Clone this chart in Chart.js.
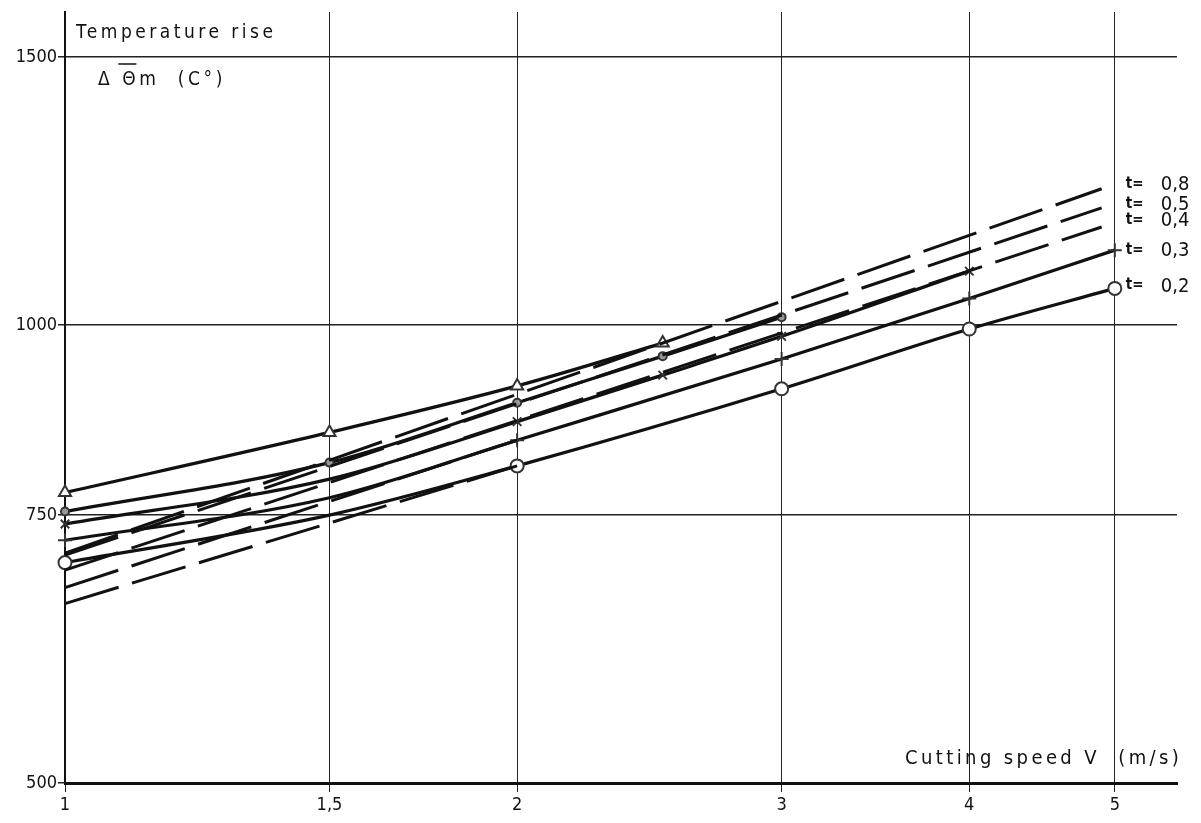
<!DOCTYPE html>
<html>
<head>
<meta charset="utf-8">
<script src="https://cdn.jsdelivr.net/npm/chart.js@4.4.0/dist/chart.umd.min.js"></script>
<style>
  body { margin: 0; background: #fff; }
  canvas { display: block; }
</style>
</head>
<body>
<canvas id="chart" width="1201" height="823"></canvas>
<script>
// cutting speed V (m/s), shared x positions of the readings
const speeds = [1, 1.5, 2, 2.5, 3, 4, 5];
const xTicks = [1, 1.5, 2, 3, 4, 5];
const xTickLabels = ['1', '1,5', '2', '3', '4', '5'];
const yTicks = [500, 750, 1000, 1500];

// temperature rise (C) per depth of cut t, null = no reading
const rise02 = [698, 750, 808, null, 908, 994, 1057];
const rise03 = [722, 770, 840, null, 950, 1041, 1120];
const rise04 = [740, 792, 864, 927, 983, 1085, null];
const rise05 = [754, 812, 889, 954, 1012, null, null];
const rise08 = [776, 850, 912, 973, null, null, null];

// 1 = measured point (marker drawn), 0 = curve only
const meas02 = [1, 0, 1, 0, 1, 1, 1];
const meas03 = [1, 0, 1, 0, 1, 1, 1];
const meas04 = [1, 0, 1, 1, 1, 1, 0];
const meas05 = [1, 1, 1, 1, 1, 0, 0];
const meas08 = [1, 1, 1, 1, 0, 0, 0];

// straight log-log fits (dashed)
const fit02Speeds = [1, 2], fit02 = [656, 808];
const fit03Speeds = [1, 2], fit03 = [672, 840];
const fit04Speeds = [1, 4.9], fit04 = [690, 1160];
const fit05Speeds = [1, 4.9], fit05 = [706, 1194];
const fit08Speeds = [1, 4.9], fit08 = [708, 1229];

const FONT = '"DejaVu Sans Condensed", "DejaVu Sans", sans-serif';
Chart.defaults.font.family = FONT;
Chart.defaults.color = '#111';

function solid(label, vals, meas, style, radius, fill) {
  return {
    label: label,
    data: speeds.map((s, i) => ({ x: s, y: vals[i] })),
    borderColor: '#111',
    borderWidth: 3.2,
    spanGaps: true,
    cubicInterpolationMode: 'monotone',
    pointStyle: style,
    pointRadius: ctx => meas[ctx.dataIndex] ? radius : 0,
    pointHoverRadius: 0,
    pointBorderColor: '#333',
    pointBorderWidth: 2,
    pointBackgroundColor: fill,
    clip: false
  };
}

function dashed(label, xs, vals) {
  return {
    label: label,
    data: xs.map((s, i) => ({ x: s, y: vals[i] })),
    borderColor: '#111',
    borderWidth: 3,
    borderDash: [56, 14],
    pointRadius: 0,
    tension: 0,
    clip: false
  };
}

const annotate = {
  id: 'annotate',
  afterDatasetsDraw(chart) {
    const { ctx, chartArea: a, scales: { x, y } } = chart;
    ctx.save();
    ctx.fillStyle = '#111';
    ctx.strokeStyle = '#111';
    ctx.textBaseline = 'alphabetic';
    ctx.font = '19px ' + FONT;
    ctx.letterSpacing = '3.5px';
    ctx.fillText('Temperature rise', a.left + 11, 38);

    const lx = a.left + 33, ly = 85;
    ctx.letterSpacing = '3.6px';
    ctx.fillText('Δ ', lx, ly);
    const w1 = ctx.measureText('Δ ').width;
    ctx.fillText('Θm  (C°)', lx + w1, ly);
    const wt = ctx.measureText('Θ').width;
    ctx.lineWidth = 1.5;
    ctx.beginPath();
    ctx.moveTo(lx + w1 - 4, 64);
    ctx.lineTo(lx + w1 + wt - 3, 64);
    ctx.stroke();

    ctx.letterSpacing = '3.4px';
    ctx.font = '20px ' + FONT;
    ctx.fillText('Cutting speed V  (m/s)', 905, 764);

    // depth labels at the line ends
    ctx.letterSpacing = '0px';
    ctx.textBaseline = 'middle';
    const ends = [
      ['0,8', fit08[1], -5], ['0,5', fit05[1], -4], ['0,4', fit04[1], -7],
      ['0,3', rise03[6], 0], ['0,2', rise02[6], -3]
    ];
    const tx = x.getPixelForValue(5) + 11;
    ends.forEach(([t, v, off]) => {
      const py = y.getPixelForValue(v) + off;
      ctx.font = 'bold 15px ' + FONT;
      ctx.fillText('t=', tx, py);
      ctx.font = '20px ' + FONT;
      ctx.fillText(t, tx + 35, py + 1);
    });
    ctx.restore();
  }
};

new Chart(document.getElementById('chart'), {
  type: 'line',
  data: {
    datasets: [
      dashed('fit 0,2', fit02Speeds, fit02),
      dashed('fit 0,3', fit03Speeds, fit03),
      dashed('fit 0,4', fit04Speeds, fit04),
      dashed('fit 0,5', fit05Speeds, fit05),
      dashed('fit 0,8', fit08Speeds, fit08),
      solid('t = 0,2', rise02, meas02, 'circle', 6.5, '#fff'),
      solid('t = 0,3', rise03, meas03, 'cross', 7, '#fff'),
      solid('t = 0,4', rise04, meas04, 'crossRot', 6, '#fff'),
      solid('t = 0,5', rise05, meas05, 'circle', 4, '#999'),
      solid('t = 0,8', rise08, meas08, 'triangle', 7, '#fff')
    ]
  },
  options: {
    responsive: false,
    animation: false,
    layout: { padding: { top: 12, right: 24, left: 0, bottom: 0 } },
    plugins: { legend: { display: false }, tooltip: { enabled: false } },
    scales: {
      x: {
        type: 'logarithmic',
        min: 1,
        max: 5.5,
        afterBuildTicks: ax => { ax.ticks = xTicks.map(v => ({ value: v })); },
        afterFit: ax => { ax.height = 40; },
        ticks: {
          callback: (v, i) => xTickLabels[i],
          font: { size: 18 },
          padding: 3,
          maxRotation: 0,
          autoSkip: false
        },
        grid: { color: '#222', lineWidth: 1, tickLength: 9 },
        border: { color: '#111', width: 3 }
      },
      y: {
        type: 'logarithmic',
        min: 500,
        max: 1606,
        afterBuildTicks: ax => { ax.ticks = yTicks.map(v => ({ value: v })); },
        afterFit: ax => { ax.width = 65; },
        ticks: {
          callback: v => String(v),
          font: { size: 18 },
          padding: 1,
          autoSkip: false
        },
        grid: { color: '#222', lineWidth: 1.5, tickLength: 7 },
        border: { color: '#111', width: 2 }
      }
    }
  },
  plugins: [annotate]
});
</script>
</body>
</html>
